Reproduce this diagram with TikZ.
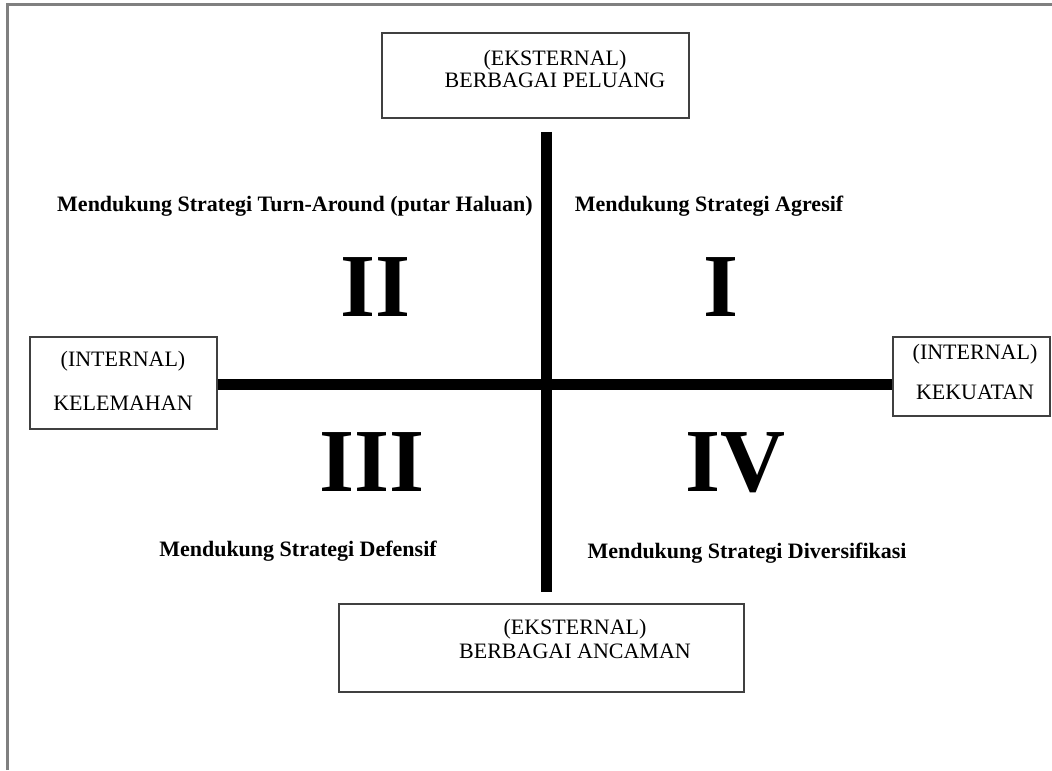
\documentclass[tikz,border=0pt]{standalone}
\usepackage{fontspec}
\setmainfont{Liberation Serif}
\tikzset{
    outbox/.style={rectangle, draw=black!75, line width=1pt, anchor=north west, inner sep=0pt},
    boxtext/.style={font=\fontsize{11}{13}\selectfont, align=center, inner sep=0pt},
    lbl/.style={font=\fontsize{11}{13}\selectfont\bfseries, inner sep=0pt},
    quadnum/.style={font=\fontsize{45}{50}\selectfont\bfseries, inner sep=0pt},
    axis/.style={line width=5.5pt, black},
    pageline/.style={line width=1.5pt, gray},
}
\begin{document}
\begin{tikzpicture}[x=0.5pt, y=-0.5pt]
\useasboundingbox (0,0) rectangle (1052,770);

% page edge
\draw[pageline] (7,770) -- (7,5) -- (1052,5);

% External boxes (top / bottom)
\node[outbox, minimum width=153.5pt, minimum height=42.5pt] (peluang) at (381,32) {};
\node[boxtext] (peluangtxt) at (555,69) {(EKSTERNAL)\\[-2pt]BERBAGAI PELUANG};

\node[outbox, minimum width=202.5pt, minimum height=44pt] (ancaman) at (338,603) {};
\node[boxtext] (ancamantxt) at (575,639) {(EKSTERNAL)\\[-1pt]BERBAGAI ANCAMAN};

% Internal boxes (left / right)
\node[outbox, minimum width=93.5pt, minimum height=46pt] (kelemahan) at (29,336) {};
\node[boxtext] (kelemahantxt) at (123,381) {(INTERNAL)\\[9pt]KELEMAHAN};

\node[outbox, minimum width=78.5pt, minimum height=39.5pt] (kekuatan) at (892,336) {};
\node[boxtext] (kekuatantxt) at (975,372) {(INTERNAL)\\[7pt]KEKUATAN};

% Axes
\coordinate (origin) at (546,384);
\coordinate (vtop) at (546,132);
\coordinate (vbot) at (546,592);
\draw[axis] (kelemahan.east |- origin) -- (kekuatan.west |- origin);
\draw[axis] (vtop) -- (vbot);

% Quadrants
\node[lbl] (turnaround) at (295,206) {Mendukung Strategi Turn-Around (putar Haluan)};
\node[lbl] (agresif) at (709,206) {Mendukung Strategi Agresif};
\node[quadnum] (q2) at (376,287) {II};
\node[quadnum] (q1) at (721,287) {I};
\node[quadnum] (q3) at (372,462) {III};
\node[quadnum] (q4) at (735,463) {IV};
\node[lbl] (defensif) at (298,551) {Mendukung Strategi Defensif};
\node[lbl] (diversifikasi) at (747,553) {Mendukung Strategi Diversifikasi};

\end{tikzpicture}
\end{document}
